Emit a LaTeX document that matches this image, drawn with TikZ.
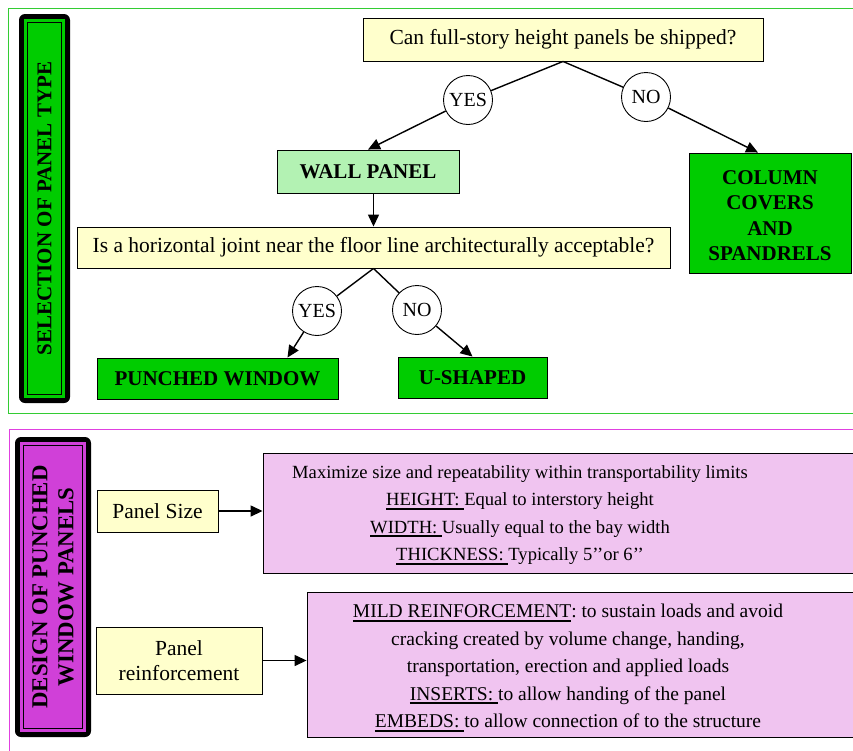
\documentclass[tikz,border=0pt]{standalone}
\usepackage{fontspec}
\setmainfont{Liberation Serif}
\usetikzlibrary{arrows.meta}
\frenchspacing
\definecolor{qyellow}{HTML}{FFFFCC}
\definecolor{palegreen}{HTML}{B3F2B3}
\definecolor{brightgreen}{HTML}{00CC00}
\definecolor{framegreen}{HTML}{33CC33}
\definecolor{pinkfill}{HTML}{F0C4F0}
\definecolor{magentafill}{HTML}{D040D8}
\definecolor{framemagenta}{HTML}{E040E0}
\newsavebox\ulbox
\newcommand{\myul}[1]{\sbox\ulbox{#1}\makebox[0pt][l]{\rule[-4pt]{\wd\ulbox}{2pt}}\usebox\ulbox}
\tikzset{
  box/.style={draw=black, line width=0.9pt, inner sep=0pt, align=center,
    font=\fontsize{21.5}{25}\selectfont},
  question/.style={box, fill=qyellow},
  result/.style={box, fill=brightgreen, font=\fontsize{21}{25.5}\selectfont\bfseries},
  wallstyle/.style={box, fill=palegreen, font=\fontsize{21}{25.5}\selectfont\bfseries},
  answer/.style={circle, draw=black, line width=0.9pt, fill=white, minimum size=49pt,
    inner sep=0pt, font=\fontsize{20}{24}\selectfont},
  link/.style={line width=1.4pt},
  arrowlink/.style={link, -{Triangle[length=12pt,width=11pt]}},
  pinkbox/.style={draw=black, line width=0.9pt, fill=pinkfill, inner sep=0pt},
  pinktext/.style={align=center, inner sep=0pt, font=\fontsize{19.5}{27.5}\selectfont},
  titleouter/.style={fill=black, rounded corners=6pt, inner sep=0pt},
  titletext/.style={rotate=90, align=center, inner sep=0pt,
    font=\fontsize{21}{26}\selectfont\bfseries},
  frameline/.style={line width=1pt}
}
\begin{document}
\begin{tikzpicture}[x=1pt,y=-1pt]
\useasboundingbox (0,0) rectangle (853,750);
\fill[white] (0,0) rectangle (853,750);
% frames
\draw[frameline, framegreen] (8,8) rectangle (856,413);
\draw[frameline, framemagenta] (9,429) rectangle (856,753);

% ---------- top title ----------
\node[titleouter, minimum width=51pt, minimum height=389pt] (t1) at (44.5,208.5) {};
\fill[brightgreen] ([shift={(5.5pt,5.5pt)}]t1.south west) rectangle ([shift={(-5.5pt,-5.5pt)}]t1.north east);
\draw[line width=0.8pt] ([shift={(8.5pt,8.5pt)}]t1.south west) rectangle ([shift={(-8.5pt,-8.5pt)}]t1.north east);
\node[titletext] (t1label) at (t1) {SELECTION OF PANEL TYPE};

% ---------- top flow ----------
\node[question, minimum width=400pt, minimum height=43pt] (q1) at (563,39.5) {Can full-story height panels be shipped?};
\node[answer] (yes1) at (468,100) {YES};
\node[answer] (no1) at (646,97) {NO};
\node[wallstyle, minimum width=182pt, minimum height=43pt] (wall) at (368,171.5) {WALL PANEL};
\node[result, minimum width=162pt, minimum height=120pt] (col) at (770,213) {\raisebox{-2.5pt}[\height][\depth]{\parbox{160pt}{\centering COLUMN\\COVERS\\AND\\SPANDRELS}}};
\node[question, minimum width=593pt, minimum height=41pt] (q2) at (373.5,247.5) {Is a horizontal joint near the floor line architecturally acceptable?};
\node[answer] (yes2) at (317,311) {YES};
\node[answer] (no2) at (417,310) {NO};
\node[result, minimum width=241pt, minimum height=41pt] (punched) at (217.5,378.5) {PUNCHED WINDOW};
\node[result, minimum width=149pt, minimum height=41pt] (ushaped) at (472.5,377.5) {U-SHAPED};

\draw[link] (q1.south) -- (yes1);
\draw[link] (q1.south) -- (no1);
\draw[arrowlink] (yes1) -- (wall.north);
\draw[arrowlink] (no1) -- ([xshift=-12pt]col.north);
\draw[arrowlink] (q2.north |- wall.south) -- (q2.north);
\draw[link] (q2.south) -- (yes2);
\draw[link] (q2.south) -- (no2);
\draw[arrowlink] (yes2) -- ([xshift=70pt]punched.north);
\draw[arrowlink] (no2) -- (ushaped.north);

% ---------- bottom title ----------
\node[titleouter, minimum width=76pt, minimum height=300pt] (t2) at (53,587) {};
\fill[magentafill] ([shift={(5.5pt,5.5pt)}]t2.south west) rectangle ([shift={(-5.5pt,-5.5pt)}]t2.north east);
\draw[line width=0.8pt] ([shift={(8.5pt,8.5pt)}]t2.south west) rectangle ([shift={(-8.5pt,-8.5pt)}]t2.north east);
\node[titletext, font=\fontsize{22.8}{26}\selectfont\bfseries] (t2label) at (t2) {DESIGN OF PUNCHED\\WINDOW PANELS};

% ---------- bottom flow ----------
\node[question, minimum width=121pt, minimum height=42pt] (size) at (157.5,511) {Panel Size};
\node[question, minimum width=166pt, minimum height=67pt] (reinf) at (179,660.5) {Panel\\reinforcement};
\node[pinkbox, minimum width=593pt, minimum height=120pt] (sizebox) at (559.5,513) {};
\node[pinktext, font=\fontsize{18.6}{27.5}\selectfont] (sizetext) at (520,515) {Maximize size and repeatability within transportability limits\\
\myul{HEIGHT:\ }Equal to interstory height\\
\myul{WIDTH:\ }Usually equal to the bay width\\
\myul{THICKNESS:\ }Typically 5’’or 6’’};
\node[pinkbox, minimum width=549pt, minimum height=145pt] (reinfbox) at (581.5,664.5) {};
\node[pinktext] (reinftext) at (568,668) {\myul{MILD REINFORCEMENT}: to sustain loads and avoid\\
cracking created by volume change, handing,\\
transportation, erection and applied loads\\
\myul{INSERTS:\ }to allow handing of the panel\\
\myul{EMBEDS:\ }to allow connection of to the structure};

\draw[arrowlink] (size.east) -- (size.east -| sizebox.west);
\draw[arrowlink] (reinf.east) -- (reinf.east -| reinfbox.west);
\end{tikzpicture}
\end{document}
